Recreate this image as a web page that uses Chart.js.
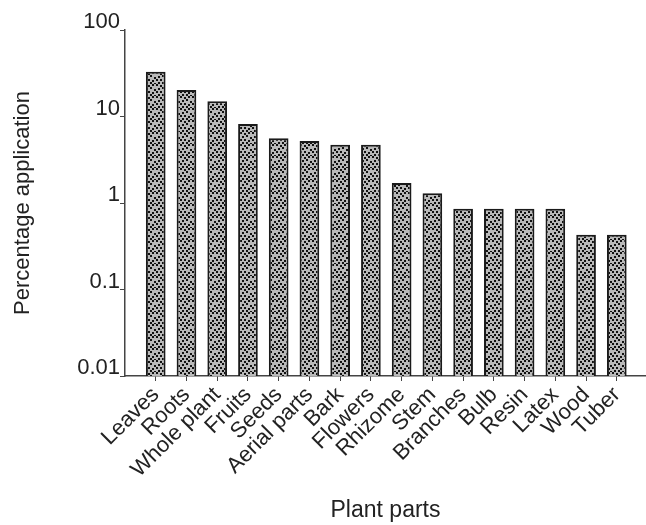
<!DOCTYPE html>
<html>
<head>
<meta charset="utf-8">
<script src="https://cdn.jsdelivr.net/npm/chart.js@4"></script>
<style>
  html, body { margin: 0; padding: 0; background: #fff; }
  #wrap { width: 646px; height: 525px; }
</style>
</head>
<body>
<div id="wrap"><canvas id="c" width="646" height="525"></canvas></div>
<script>
/* plant parts vs. share of applications (log scale) */
const parts = ['Leaves', 'Roots', 'Whole plant', 'Fruits', 'Seeds', 'Aerial parts', 'Bark', 'Flowers',
  'Rhizome', 'Stem', 'Branches', 'Bulb', 'Resin', 'Latex', 'Wood', 'Tuber'];
const percent = [33, 20.2, 15.0, 8.2, 5.6, 5.2, 4.7, 4.7, 1.7, 1.3, 0.86, 0.86, 0.86, 0.86, 0.43, 0.43];
const yTicks = [0.01, 0.1, 1, 10, 100];
const yTickLabels = ['0.01', '0.1', '1', '10', '100'];

const INK = '#222', AXIS = '#444', FONT = '"Liberation Sans", Arial, Helvetica, sans-serif';

// stippled fill: grey ground with small black squares
function stipple() {
  const t = document.createElement('canvas');
  t.width = 12; t.height = 12;
  const g = t.getContext('2d');
  g.fillStyle = '#b9b9b9'; g.fillRect(0, 0, 12, 12);
  g.fillStyle = '#111';
  [[0, 0], [4, 1], [8, 0], [2, 4], [6, 3], [10, 5], [0, 7], [4, 7], [8, 8], [2, 10], [6, 10], [10, 11]]
    .forEach(([x, y]) => g.fillRect(x, y, 2, 2));
  return g.createPattern(t, 'repeat');
}

new Chart(document.getElementById('c'), {
  type: 'bar',
  data: {
    datasets: [{
      data: percent.map((v, i) => ({ x: i + 1, y: v })),
      backgroundColor: stipple(),
      borderColor: '#1a1a1a', borderWidth: 2, borderSkipped: 'bottom',
      barPercentage: 0.64, categoryPercentage: 1,
    }],
  },
  options: {
    responsive: false, animation: false, devicePixelRatio: 1,
    layout: { padding: { top: 30, right: 0, bottom: 0, left: 0 } },
    plugins: { legend: { display: false }, tooltip: { enabled: false } },
    scales: {
      x: {
        type: 'linear', min: 0, max: 16.95, offset: false,
        afterBuildTicks: s => { s.ticks = parts.map((p, i) => ({ value: i + 1 })); },
        afterFit: s => { s.height = 149; },
        grid: { offset: false, drawOnChartArea: false, drawTicks: true, tickLength: 5, color: AXIS, lineWidth: 1 },
        border: { display: true, color: AXIS, width: 1.5 },
        ticks: {
          autoSkip: false, minRotation: 45, maxRotation: 45, padding: 1, color: INK,
          font: { family: FONT, size: 22 },
          callback: v => parts[v - 1] ?? '',
        },
        title: { display: true, text: 'Plant parts', color: INK, font: { family: FONT, size: 23 }, padding: { top: 0, bottom: 1 } },
      },
      y: {
        type: 'logarithmic', min: 0.01, max: 100,
        afterBuildTicks: s => { s.ticks = yTicks.map(v => ({ value: v })); },
        afterFit: s => { s.width = 125; },
        grid: { drawOnChartArea: false, drawTicks: true, tickLength: 5, color: AXIS, lineWidth: 1 },
        border: { display: true, color: AXIS, width: 1.5 },
        ticks: {
          padding: 0, color: INK, labelOffset: -8,
          font: { family: FONT, size: 22 },
          callback: v => yTickLabels[yTicks.indexOf(v)] ?? '',
        },
        title: { display: true, text: 'Percentage application', color: INK, font: { family: FONT, size: 22 }, padding: { top: 10, bottom: 0 } },
      },
    },
  },
});
</script>
</body>
</html>
